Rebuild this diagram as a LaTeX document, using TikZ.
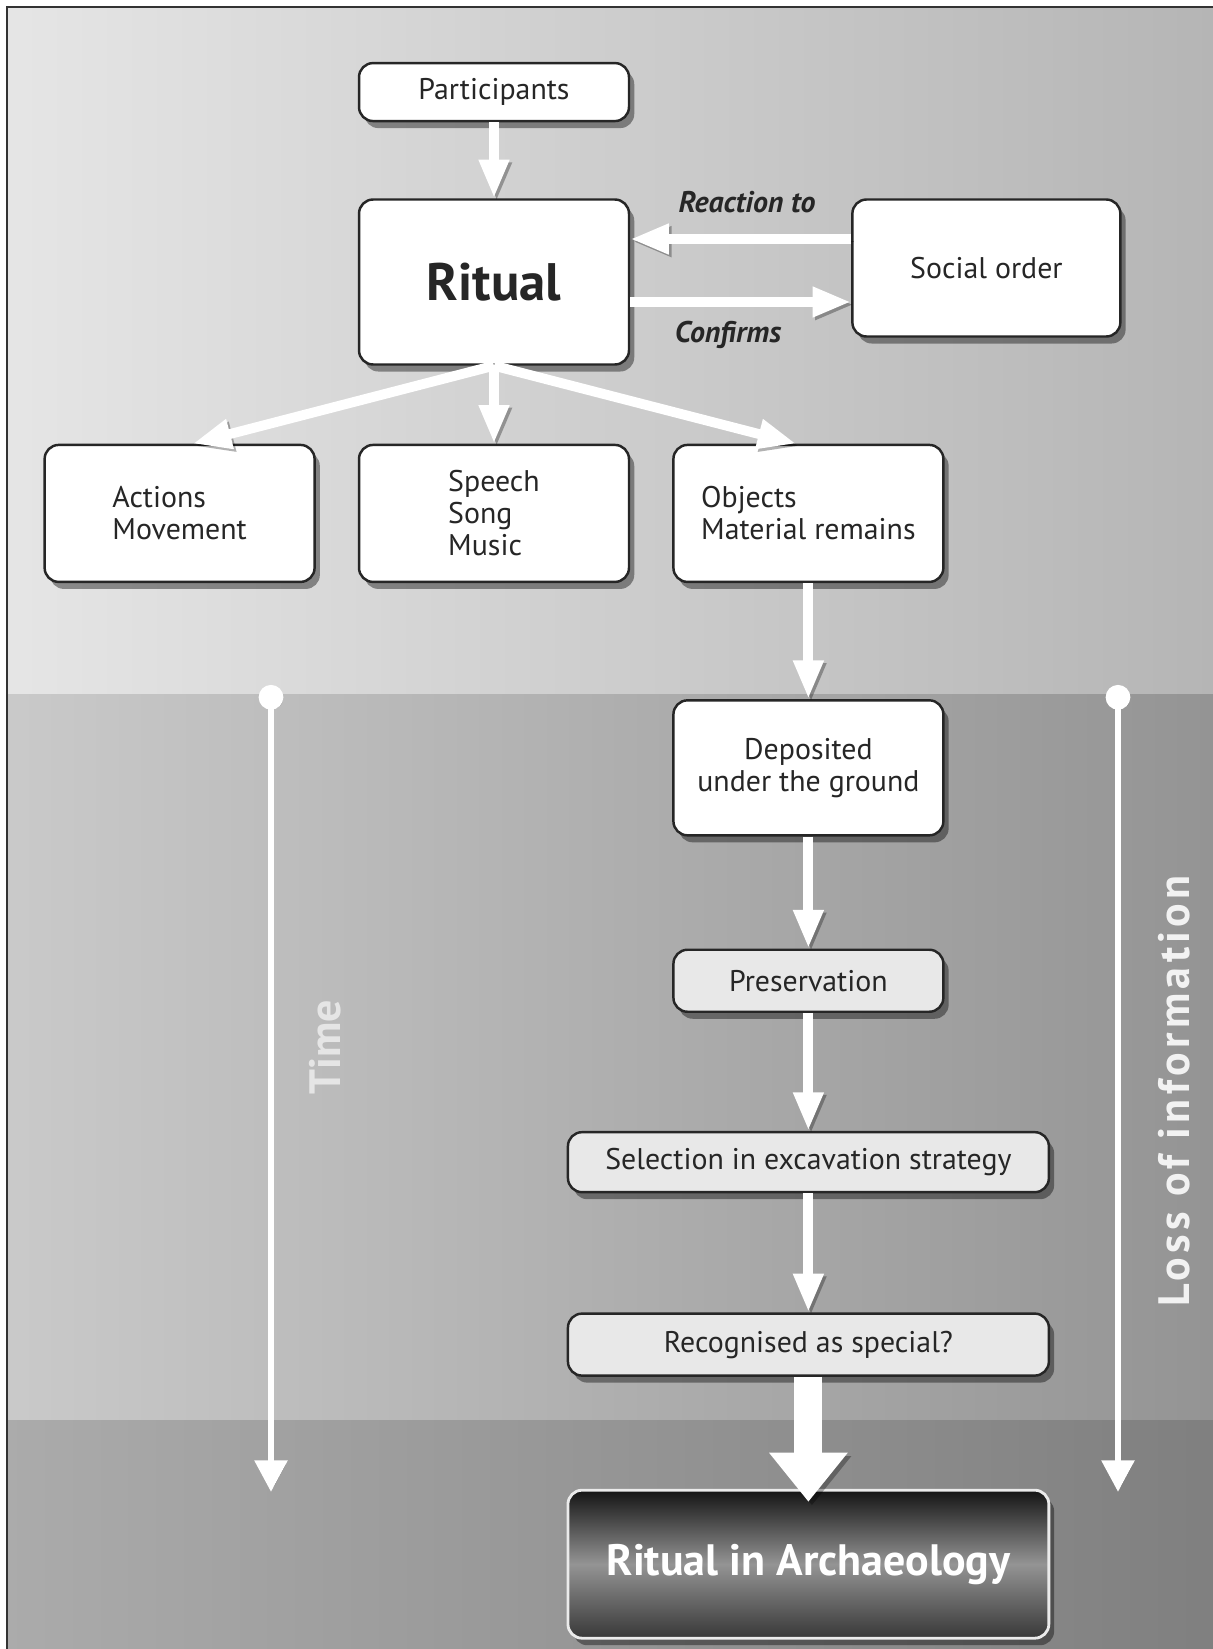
\documentclass[tikz,border=0pt]{standalone}
\usepackage{fontspec}
\setmainfont{PT Sans}
\usetikzlibrary{positioning,shadows,arrows.meta}

\tikzset{
  box/.style={draw=black!85, line width=1.4pt, rounded corners=8pt, fill=white,
    text=black!85, inner sep=0pt, align=center, minimum width=5.4cm,
    font=\fontsize{17}{18.2}\selectfont,
    drop shadow={shadow xshift=3pt, shadow yshift=-4pt, opacity=0.4, fill=black}},
  greybox/.style={box, fill=black!9},
  finalbox/.style={box, draw=black!8, line width=1.6pt, top color=black!92,
    bottom color=black!78, middle color=black!42, text=white,
    font=\bfseries\fontsize{25}{28}\selectfont},
  lbl/.style={text=black!85, font=\bfseries\itshape\fontsize{17}{18}\selectfont},
  sidelbl/.style={rotate=90, font=\bfseries\fontsize{25}{25}\selectfont},
  flow/.style={draw=white, line width=5.6pt, -{Triangle[width=16pt,length=22pt]},
    preaction={draw=black, opacity=0.3, transform canvas={shift={(1.5pt,-1.5pt)}}}},
  bigflow/.style={draw=white, line width=16pt, -{Triangle[width=43pt,length=28pt]},
    preaction={draw=black, opacity=0.3, transform canvas={shift={(2pt,-2pt)}}}},
  timeline/.style={draw=white, line width=3.8pt,
    {Circle[length=14pt]}-{Triangle[width=18pt,length=18pt]},
    preaction={draw=black, opacity=0.3, transform canvas={shift={(1.5pt,-1pt)}}}}
}

\begin{document}
\begin{tikzpicture}[x=0.02cm, y=-0.02cm]
  \useasboundingbox (0,0) rectangle (1213,1649);

  % Background bands
  \fill[white] (0,0) rectangle (1213,1649);
  \shade[left color=black!10, right color=black!29] (7,7) rectangle (1213,694);
  \shade[left color=black!21, right color=black!42] (7,694) rectangle (1213,1420);
  \shade[left color=black!33, right color=black!50] (7,1420) rectangle (1213,1649);
  \draw[black!80, line width=1.2pt] (7,1649) -- (7,7) -- (1213,7);

  % Define nodes
  \node[box, minimum height=3.3cm, font=\bfseries\fontsize{30}{34}\selectfont]
    (ritual) at (494,282) {Ritual};
  \node[box, minimum height=1.16cm, above=1.52cm of ritual] (part) {Participants};
  \node[box, minimum width=5.36cm, minimum height=2.74cm, right=4.42cm of ritual,
    yshift=0.28cm] (social) {Social order};
  \node[box, minimum height=2.74cm, align=left, below=1.56cm of ritual]
    (speech) {Speech\\Song\\Music};
  \node[box, minimum height=2.74cm, align=left, left=0.84cm of speech]
    (actions) {Actions\\Movement};
  \node[box, minimum height=2.74cm, align=left, right=0.84cm of speech]
    (objects) {Objects\\Material remains};
  \node[box, minimum height=2.7cm, below=2.32cm of objects]
    (deposit) {Deposited\\under the ground};
  \node[greybox, minimum height=1.24cm, below=2.24cm of deposit] (preserve) {Preservation};
  \node[greybox, minimum width=9.62cm, minimum height=1.2cm, below=2.36cm of preserve]
    (select) {Selection in excavation strategy};
  \node[greybox, minimum width=9.62cm, minimum height=1.24cm, below=2.38cm of select]
    (recog) {Recognised as special?};
  \node[finalbox, minimum width=9.62cm, minimum height=2.96cm, below=2.24cm of recog]
    (ria) {Ritual in Archaeology};

  \node[lbl] (react) at (747,202) {Reaction to};
  \node[lbl] (confirm) at (728,335) {Confirms};
  \node[sidelbl, text=black!10] (time) at (325,1047) {Time};
  \node[sidelbl, text=black!5] (loss) at (1174,1091)
    {\addfontfeature{LetterSpace=10}Loss of information};

  % Connect the nodes
  \coordinate (r1) at ([yshift=0.86cm]ritual.east);
  \coordinate (r2) at ([yshift=-0.4cm]ritual.east);
  \draw[flow] (part) -- (ritual);
  \draw[flow] (social.west |- r1) -- (r1);
  \draw[flow] (r2) -- (social.west |- r2);
  \draw[flow] (ritual.south) -- ([xshift=0.26cm]actions.north);
  \draw[flow] (ritual.south) -- (speech.north);
  \draw[flow] (ritual.south) -- ([xshift=-0.24cm]objects.north);
  \draw[flow] (objects) -- (deposit);
  \draw[flow] (deposit) -- (preserve);
  \draw[flow] (preserve) -- (select);
  \draw[flow] (select) -- (recog);
  \draw[bigflow] (recog.south) -- ([yshift=-0.26cm]ria.north);

  % Time lines
  \coordinate (t0) at (271,685);
  \coordinate (t1) at (271,1492);
  \coordinate (l0) at (1118,685);
  \coordinate (l1) at (1118,1492);
  \draw[timeline] (t0) -- (t1);
  \draw[timeline] (l0) -- (l1);
\end{tikzpicture}
\end{document}
